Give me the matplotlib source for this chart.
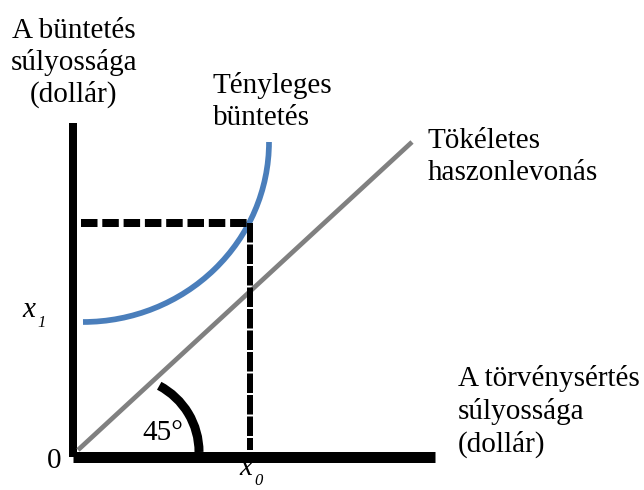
import matplotlib
matplotlib.use("Agg")
import matplotlib.pyplot as plt
from matplotlib.patches import Arc

plt.rcParams['font.family'] = ['Liberation Serif', 'DejaVu Serif']
plt.rcParams['lines.scale_dashes'] = False

PX = 0.72  # pixel -> point at dpi 100

# Axes (pixel coordinates of the diagram, y downward)
y_axis_x = [73, 73]
y_axis_y = [123, 457]
x_axis_x = [73, 435]
x_axis_y = [457, 457]

# Perfect deterrence 45 degree line
diag_x = [78, 412]
diag_y = [450, 142]

# Actual penalty curve: quarter ellipse (center, half-width, half-height)
curve_center = (83, 142)
curve_radii = (186, 180)

# Dashed guide lines to x0 / x1
hdash_x = [81, 250]
hdash_y = [223, 223]
vdash_x = [250, 250]
vdash_y = [223, 450]

# 45 degree marker arc
angle_center = (124, 452)
angle_radius = 75
angle_span = (-62, 0)

left_label = ["A büntetés", "súlyossága", "(dollár)"]
curve_label = ["Tényleges", "büntetés"]
diag_label = ["Tökéletes", "haszonlevonás"]
bottom_label = ["A törvénysértés", "súlyossága", "(dollár)"]

fig = plt.figure(figsize=(6.44, 4.90), dpi=100)
ax = fig.add_axes([0, 0, 1, 1])
ax.set_xlim(0, 644)
ax.set_ylim(490, 0)
ax.axis("off")

ax.plot(y_axis_x, y_axis_y, color="black", lw=8 * PX, solid_capstyle="butt")
ax.plot(x_axis_x, x_axis_y, color="black", lw=11 * PX, solid_capstyle="butt")
ax.plot(diag_x, diag_y, color="#808080", lw=4.7 * PX, solid_capstyle="butt")

ax.plot(hdash_x, hdash_y, color="black", lw=8 * PX,
        dashes=(16.5 * PX, 4.8 * PX), dash_capstyle="butt")
ax.plot(vdash_x, vdash_y, color="black", lw=6 * PX,
        dashes=(19.5 * PX, 2 * PX), dash_capstyle="butt")

ax.add_patch(Arc(curve_center, 2 * curve_radii[0], 2 * curve_radii[1],
                 theta1=0, theta2=90, color="#4a7ebb", lw=5.7 * PX))
ax.add_patch(Arc(angle_center, 2 * angle_radius, 2 * angle_radius,
                 theta1=angle_span[0], theta2=angle_span[1],
                 color="black", lw=9 * PX, capstyle="butt"))

FS = 21


def lines(texts, x, y0, ha="left", step=32):
    for i, t in enumerate(texts):
        ax.text(x, y0 + i * step, t, fontsize=FS, ha=ha, va="baseline")


def sub_label(x, y, base, sub):
    ax.text(x, y, base, fontsize=FS, style="italic", ha="left", va="baseline")
    ax.text(x + 15, y + 10, sub, fontsize=12, style="italic",
            ha="left", va="baseline")


lines(left_label, 74, 38, ha="center")
lines(curve_label, 213, 93)
lines(diag_label, 428, 148)
lines(bottom_label, 458, 386, step=33)

ax.text(54, 468, "0", fontsize=FS, ha="center", va="baseline")
ax.text(142, 440, "45°", fontsize=FS, ha="left", va="baseline")
sub_label(22, 317, "x", "1")
sub_label(239, 475, "x", "0")

fig.savefig("out.png", dpi=100)
